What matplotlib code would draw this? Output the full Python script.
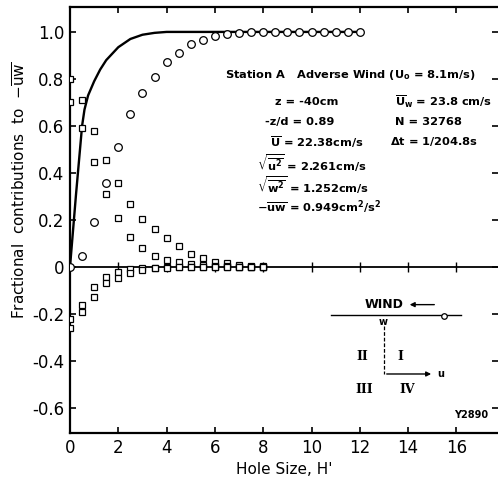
import numpy as np
import matplotlib
matplotlib.use("Agg")
import matplotlib.pyplot as plt

plt.rcParams['font.family'] = ['DejaVu Sans']
plt.rcParams['mathtext.default'] = 'regular'

# hole size H' for the quadrant fractions
quad_h = [0, 0.5, 1, 1.5, 2, 2.5, 3, 3.5, 4, 4.5, 5, 5.5, 6, 6.5, 7, 7.5, 8]
q2 = [0.80, 0.71, 0.58, 0.455, 0.356, 0.27, 0.204, 0.16, 0.122, 0.089, 0.055, 0.037, 0.023, 0.015, 0.008, 0.005, 0.003]
q4 = [0.70, 0.59, 0.448, 0.31, 0.207, 0.126, 0.08, 0.048, 0.03, 0.02, 0.013, 0.008, 0.005, 0.003, 0.002, 0.001, 0.0]
q1 = [-0.22, -0.16, -0.085, -0.043, -0.02, -0.01, -0.005, -0.003, -0.002, -0.001, 0, 0, 0, 0, 0, 0, 0]
q3 = [-0.26, -0.19, -0.127, -0.07, -0.045, -0.025, -0.012, -0.006, -0.003, -0.002, -0.001, 0, 0, 0, 0, 0, 0]

# open circles (time fraction)
circ_h = [0, 0.5, 1, 1.5, 2, 2.5, 3, 3.5, 4, 4.5, 5, 5.5, 6, 6.5, 7, 7.5, 8,
          8.5, 9, 9.5, 10, 10.5, 11, 11.5, 12]
circ_f = [0, 0.048, 0.19, 0.356, 0.51, 0.65, 0.74, 0.81, 0.87, 0.91, 0.95, 0.966, 0.983, 0.991, 0.997, 1.0, 1.0,
          1.0, 1.0, 1.0, 1.0, 1.0, 1.0, 1.0, 1.0]

# solid curve
curve_h = [0, 0.25, 0.5, 0.6, 0.75, 1.0, 1.25, 1.5, 2.0, 2.5, 3.0, 3.5, 4.0, 5, 6, 7, 8, 9, 10, 11, 12]
curve_f = [0, 0.31, 0.60, 0.67, 0.73, 0.79, 0.84, 0.88, 0.935, 0.97, 0.988, 0.996, 1.0, 1.0, 1.0, 1.0, 1.0, 1.0, 1.0, 1.0, 1.0]

xticks = [0, 2, 4, 6, 8, 10, 12, 14, 16]
yticks = [-0.6, -0.4, -0.2, 0, 0.2, 0.4, 0.6, 0.8, 1.0]

fig = plt.figure(figsize=(4.98, 4.86), dpi=100)
ax = fig.add_axes([70 / 498, 53 / 486, 428 / 498, 426 / 486])

ax.axhline(0, color='black', lw=1.3, zorder=1)
ax.plot(xticks[1:], np.zeros(len(xticks) - 1), '|', color='black', ms=7, mew=1.0)

ax.plot(curve_h, curve_f, color='black', lw=1.7, zorder=2)
ax.plot(circ_h, circ_f, 'o', ms=5.5, mfc='white', mec='black', mew=0.9, zorder=3)

sq = dict(marker='s', ls='none', ms=4, mfc='white', mec='black', mew=0.9, zorder=3)
for q in (q2, q4, q1, q3):
    ax.plot(quad_h, q, **sq)

ax.set_xlim(0, 428 / 24.15)
ax.set_ylim(-0.706, 1.106)
ax.set_xticks(xticks)
ax.set_yticks(yticks)
ax.set_xticklabels([str(t) for t in xticks])
ax.set_yticklabels(['-0.6', '-0.4', '-0.2', '0', '0.2', '0.4', '0.6', '0.8', '1.0'])
ax.tick_params(direction='in', length=4, width=1.2, labelsize=12, top=True, right=True, pad=4)
ax.spines['right'].set_visible(False)
for s in ('left', 'bottom', 'top'):
    ax.spines[s].set_linewidth(1.6)

ax.set_xlabel("Hole Size, H'", fontsize=11)
ax.xaxis.set_label_coords(0.5, -0.068)
ax.set_ylabel(r"Fractional  contributions  to  $-\overline{uw}$", fontsize=11)
ax.yaxis.set_label_coords(-0.097, 0.57)

# annotations
tk = dict(fontsize=8.2, fontweight='bold', va='center', ha='left')
ax.text(6.42, 0.817, r"Station A   Adverse Wind (U$_o$ = 8.1m/s)", **tk)
ax.text(8.49, 0.702, "z = -40cm", **tk)
ax.text(13.46, 0.702, r"$\overline{U}_w$ = 23.8 cm/s", **tk)
ax.text(8.07, 0.617, "-z/d = 0.89", **tk)
ax.text(13.46, 0.617, "N = 32768", **tk)
ax.text(8.28, 0.532, r"$\overline{U}$ = 22.38cm/s", **tk)
ax.text(13.25, 0.532, r"$\Delta$t = 1/204.8s", **tk)
ax.text(7.74, 0.443, r"$\sqrt{\overline{u^2}}$ = 2.261cm/s", **tk)
ax.text(7.74, 0.349, r"$\sqrt{\overline{w^2}}$ = 1.252cm/s", **tk)
ax.text(7.74, 0.255, r"$-\overline{uw}$ = 0.949cm$^2$/s$^2$", **tk)

# wind / quadrant sketch
ax.plot([10.8, 16.2], [-0.204, -0.204], color='black', lw=1.0)
ax.text(13.0, -0.16, "WIND", fontsize=9, fontweight='bold', ha='center', va='center')
ax.annotate('', xy=(13.95, -0.16), xytext=(15.2, -0.16),
            arrowprops=dict(arrowstyle='-|>', color='black', lw=1.0, mutation_scale=7))
ax.plot([15.5], [-0.21], 'o', ms=4, mfc='white', mec='black', mew=0.9)
ax.text(12.95, -0.232, "w", fontsize=7, fontweight='bold', ha='center', va='center')
ax.plot([13.0, 13.0], [-0.25, -0.455], color='black', lw=0.9, ls=(0, (3, 1.5)))
ax.annotate('', xy=(15.07, -0.455), xytext=(13.0, -0.455),
            arrowprops=dict(arrowstyle='-|>', color='black', lw=1.0, mutation_scale=7))
ax.text(15.35, -0.457, "u", fontsize=7, fontweight='bold', ha='center', va='center')
rk = dict(fontsize=9, fontweight='bold', family='DejaVu Serif', ha='center', va='center')
ax.text(12.1, -0.38, "II", **rk)
ax.text(13.7, -0.38, "I", **rk)
ax.text(12.2, -0.52, "III", **rk)
ax.text(13.95, -0.52, "IV", **rk)
ax.text(17.3, -0.63, "Y2890", fontsize=7, fontweight='bold', ha='right', va='center')

fig.savefig("out.png", dpi=100)
